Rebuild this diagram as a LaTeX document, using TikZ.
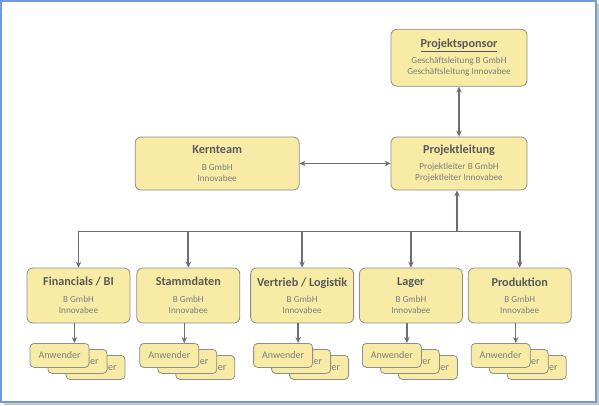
\documentclass[tikz,border=0pt]{standalone}
\usepackage{fontspec}
\setmainfont{Carlito}
\usetikzlibrary{arrows.meta, positioning, calc}
\definecolor{boxfill}{HTML}{F8EBA6}
\definecolor{boxline}{HTML}{8E8E8E}
\definecolor{arrowgray}{HTML}{6B6E76}
\definecolor{titlegray}{HTML}{595959}
\definecolor{subgray}{HTML}{7F7F7F}
\definecolor{frameblue}{HTML}{6F9BD8}
\definecolor{frameshadow}{HTML}{C8C8C8}

\newcommand{\unittext}[3]{{\fontsize{12.2}{14}\selectfont\bfseries\color{titlegray}#1}\\[5.5pt]#2\\#3}

\begin{document}
\begin{tikzpicture}[
        x=1pt, y=-1pt,
        >={Stealth[length=6pt,width=5.5pt]},
        unit/.style={rectangle, draw=boxline, fill=boxfill, line width=0.8pt, rounded corners=6pt, align=center, inner sep=2pt, text=subgray, font=\fontsize{9.2}{11}\selectfont},
        lead/.style={unit, minimum width=136pt, minimum height=55pt},
        team/.style={unit, minimum width=103pt, minimum height=55pt},
        user/.style={rectangle, draw=boxline, fill=boxfill, line width=0.8pt, rounded corners=4pt, minimum width=59pt, minimum height=24pt, inner sep=1pt, text=subgray, font=\fontsize{10}{12}\selectfont},
        link/.style={draw=arrowgray, line width=1.8pt}
    ]
    \useasboundingbox (0,0) rectangle (599,406);

    % --- Frame ---
    \draw[frameshadow, line width=1.6pt] (4,404) -- (598,404) -- (598,4);
    \draw[frameblue, line width=1.4pt] (1,1) rectangle (596,402);

    % --- Management ---
    \node (leitung) [lead, minimum height=53pt] at (459,163.5) {\unittext{Projektleitung}{Projektleiter B GmbH}{Projektleiter Innovabee}};
    \node (sponsor) [lead, minimum height=57pt, above=50pt of leitung] {\unittext{\underline{Projektsponsor}}{Geschäftsleitung B GmbH}{Geschäftsleitung Innovabee}};
    \node (kern) [lead, minimum width=164pt, minimum height=53pt, left=91pt of leitung] {\unittext{Kernteam}{B GmbH}{Innovabee}};

    % --- Teams ---
    \node (fin) [team] at (78.5,295.5) {\unittext{Financials / BI}{B GmbH}{Innovabee}};
    \node (stamm) [team, right=6pt of fin] {\unittext{Stammdaten}{B GmbH}{Innovabee}};
    \node (vertrieb) [team, right=10pt of stamm] {\unittext{Vertrieb / Logistik}{B GmbH}{Innovabee}};
    \node (lager) [team, right=5pt of vertrieb] {\unittext{Lager}{B GmbH}{Innovabee}};
    \node (prod) [team, right=5pt of lager] {\unittext{Produktion}{B GmbH}{Innovabee}};

    % --- Management links ---
    \draw[link, <->] (sponsor) -- (leitung);
    \draw[link, <->] (kern) -- (leitung);

    % --- Bus ---
    \coordinate (bus) at ($(leitung.south)+(0,41)$);
    \draw[link, <->] (fin.north) -- (fin.north |- bus) -- (prod.north |- bus) -- (prod.north);
    \draw[link, ->] ([xshift=-2pt]leitung.south |- bus) -- ([xshift=-2pt]leitung.south);
    \foreach \t in {stamm, vertrieb, lager}
        \draw[link, ->] (\t.north |- bus) -- (\t.north);

    % --- Anwender stacks ---
    \foreach \t in {fin, stamm, vertrieb, lager, prod} {
        \node (\t-u3) [user] at ($(\t.south)+(17,44)$) {Anwender};
        \node (\t-u2) [user] at ($(\t.south)+(-1,38)$) {Anwender};
        \node (\t-u1) [user] at ($(\t.south)+(-19,32)$) {Anwender};
        \draw[link, line width=1.4pt, ->] ([xshift=-4pt]\t.south) -- ([xshift=-4pt]\t.south |- \t-u1.north);
    }

\end{tikzpicture}
\end{document}
